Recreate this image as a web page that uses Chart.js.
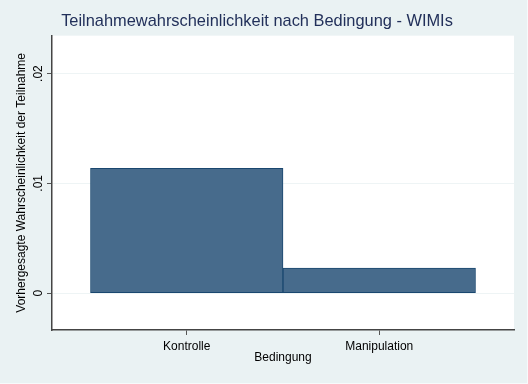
<!DOCTYPE html>
<html>
<head>
<meta charset="utf-8">
<script src="https://cdn.jsdelivr.net/npm/chart.js@4/dist/chart.umd.min.js"></script>
<style>
  html, body { margin: 0; padding: 0; background: #EAF2F3; }
  canvas { display: block; }
</style>
</head>
<body>
<canvas id="c" width="528" height="384"></canvas>
<script>
const categories = ['Kontrolle', 'Manipulation'];
const xPositions = [1, 2];
const values = [0.01136, 0.00227];
const yTickValues = [0, 0.01, 0.02];
const yTickLabels = ['0', '.01', '.02'];

const FONT = 'Liberation Sans, Arial, Helvetica, sans-serif';

const bgPlugin = {
  id: 'bg',
  beforeDraw(chart) {
    const { ctx, chartArea: a } = chart;
    ctx.save();
    ctx.fillStyle = '#EAF2F3';
    ctx.fillRect(0, 0, chart.width, chart.height);
    ctx.fillStyle = '#FFFFFF';
    ctx.fillRect(a.left, a.top, a.right - a.left, a.bottom - a.top);
    ctx.strokeStyle = '#F7FAFB';
    ctx.lineWidth = 1;
    ctx.strokeRect(-0.5, -0.5, chart.width, chart.height);
    ctx.restore();
  }
};

const yLabelPlugin = {
  id: 'ylabels',
  afterDraw(chart) {
    const { ctx } = chart;
    const ys = chart.scales.y;
    ctx.save();
    ctx.fillStyle = '#000000';
    ctx.font = '12px ' + FONT;
    ctx.textAlign = 'center';
    ctx.textBaseline = 'middle';
    yTickValues.forEach((v, i) => {
      const py = ys.getPixelForValue(v);
      ctx.save();
      ctx.translate(39, py);
      ctx.rotate(-Math.PI / 2);
      ctx.fillText(yTickLabels[i], 0, 0);
      ctx.restore();
    });
    ctx.restore();
  }
};

new Chart(document.getElementById('c'), {
  type: 'bar',
  data: {
    datasets: [{
      data: xPositions.map((x, i) => ({ x: x, y: values[i] })),
      backgroundColor: '#476B8C',
      borderColor: '#1A476F',
      borderWidth: 1,
      borderSkipped: false,
      barPercentage: 1,
      categoryPercentage: 1
    }]
  },
  options: {
    responsive: false,
    devicePixelRatio: 1,
    animation: false,
    layout: { padding: { left: 0, right: 14, top: 0, bottom: 0 } },
    plugins: {
      legend: { display: false },
      tooltip: { enabled: false },
      title: {
        display: true,
        text: 'Teilnahmewahrscheinlichkeit nach Bedingung - WIMIs',
        color: '#22305A',
        font: { family: FONT, size: 16.4, weight: 'normal' },
        padding: { top: 12, bottom: 4 }
      }
    },
    scales: {
      x: {
        type: 'linear',
        min: 0.3,
        max: 2.7,
        offset: false,
        afterBuildTicks(scale) {
          scale.ticks = xPositions.map(v => ({ value: v }));
        },
        afterFit(scale) { scale.height = 54; },
        ticks: {
          color: '#000000',
          font: { family: FONT, size: 12 },
          padding: 4,
          maxRotation: 0,
          autoSkip: false,
          callback: (v) => categories[xPositions.indexOf(v)] ?? ''
        },
        grid: {
          offset: false,
          drawOnChartArea: false,
          drawTicks: true,
          tickLength: 5,
          tickColor: '#555555'
        },
        border: { display: true, color: '#444444', width: 1.5 },
        title: {
          display: true,
          text: 'Bedingung',
          color: '#000000',
          font: { family: FONT, size: 12 },
          padding: { top: 0, bottom: 19 }
        }
      },
      y: {
        type: 'linear',
        min: -0.00336,
        max: 0.02345,
        afterBuildTicks(scale) {
          scale.ticks = yTickValues.map(v => ({ value: v }));
        },
        afterFit(scale) { scale.width = 52; },
        ticks: { display: false },
        grid: {
          color: '#EEF4F5',
          lineWidth: 1,
          drawTicks: true,
          tickLength: 5,
          tickColor: '#555555'
        },
        border: { display: true, color: '#444444', width: 1.5 },
        title: {
          display: true,
          text: 'Vorhergesagte Wahrscheinlichkeit der Teilnahme',
          color: '#000000',
          font: { family: FONT, size: 12 },
          padding: { top: 14, bottom: 0 }
        }
      }
    }
  },
  plugins: [bgPlugin, yLabelPlugin]
});
</script>
</body>
</html>
